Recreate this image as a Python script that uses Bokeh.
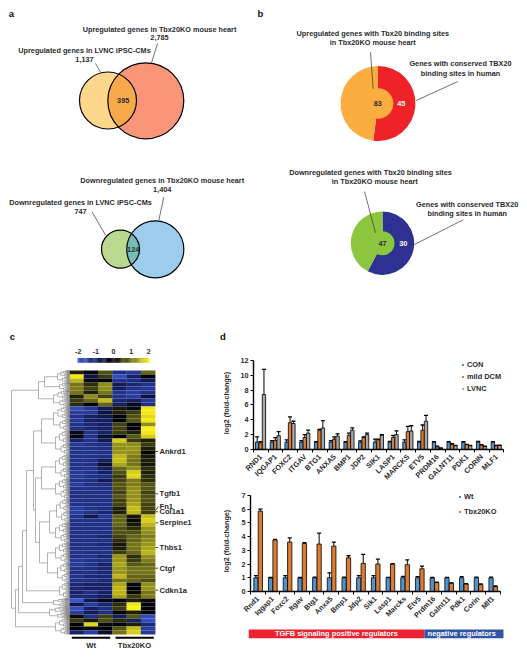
import numpy as np
from bokeh.plotting import figure
from bokeh.layouts import column, row
from bokeh.embed import file_html
from bokeh.resources import INLINE
from bokeh.core.properties import value
from bokeh.models import (ColumnDataSource, FixedTicker, Legend, LegendItem, LinearColorMapper, Range1d)

# ---------- data ----------
genes_human = ["RND1","IQGAP1","FOXC2","ITGAV","BTG1","ANXA5","BMP1","JDP2","SIK1","LASP1","MARCKS","ETV5","PRDM16","GALNT11","PDK1","CORIN","MLF1"]
con      = [1,1,1,1,1,1,1,1,1,1,1,1,1,1,1,1,1]
con_top  = [1.7,1.2,1.3,1.2,1.05,1.2,1.05,1.15,1.4,1.1,1.3,1.1,1.05,1.05,1.05,1.1,1.05]
dcm      = [0.9,1.2,3.6,1.6,2.6,1.4,1.9,1.6,1.3,1.6,2.4,2.6,0.35,0.7,0.65,0.6,0.5]
dcm_top  = [1.05,1.6,4.4,2.0,2.7,1.7,2.2,1.7,1.4,1.9,3.1,3.3,0.45,0.8,0.7,0.65,0.55]
lvnc     = [7.4,1.85,3.5,2.2,2.9,1.8,2.6,2.0,1.9,2.0,2.5,3.8,0.15,0.5,0.5,0.4,0.55]
lvnc_top = [10.8,2.4,3.8,2.6,3.9,2.1,2.9,2.2,2.0,2.5,3.2,4.6,0.2,0.55,0.55,0.45,0.6]

genes_mouse = ["Rnd1","Iqgap1","Foxc2","Itgav","Btg1","Anxa5","Bmp1","Jdp2","Sik1","Lasp1","Marcks","Etv5","Prdm16","Galnt11","Pdk1","Corin","Mlf1"]
wt      = [1,1,1,1,1,1,1,1,1,1,1,1,1,1,1,1,1]
wt_top  = [1.15,1.02,1.15,1.02,1.05,1.35,1.05,1.15,1.15,1.03,1.1,1.08,1.02,1.03,1.08,1.05,1.05]
ko      = [5.85,3.75,3.6,3.5,3.45,3.3,2.45,2.05,2.0,2.0,1.95,1.65,0.65,0.6,0.55,0.5,0.35]
ko_top  = [6.0,3.8,3.9,3.55,4.25,3.6,2.6,2.7,2.35,2.03,2.3,1.85,0.68,0.63,0.58,0.55,0.4]

band_labels = ["TGFB signaling positive regulators", "negative regulators"]
band_start = [0, 12]
band_stop  = [12, 17.4]

donut_up_share = [0.52, 0.48]     # red, orange
donut_down_share = [0.577, 0.423] # navy, green

marker_genes = ["Ankrd1","Tgfb1","Fn1","Col1a1","Serpine1","Thbs1","Ctgf","Cdkn1a"]
colorbar_ticks = [-2,-1,0,1,2]

heat_rows = [
[0.3,-0.2,0.7,-1.2,-1.4,0.9],[1.9,-0.6,0.5,-1.7,-1.0,-0.1],[1.5,-0.2,-0.1,-1.3,-1.2,-0.8],[1.0,0.4,1.2,-0.8,-1.1,-1.3],
[1.1,0.6,1.2,-0.9,-1.3,-1.4],[1.0,0.3,1.0,-1.3,-1.5,-1.3],[0.3,1.2,0.6,-1.3,-1.5,-0.6],[0.5,0.9,1.6,-1.1,-0.9,-1.4],
[0.4,0.0,0.9,-1.0,-0.3,-1.2],[-1.7,-1.4,-0.8,0.2,-0.2,1.9],[-1.5,-1.4,-0.6,0.3,0.5,1.9],[-1.3,-1.0,-0.7,-0.1,0.7,1.8],
[-1.4,-1.0,-0.9,0.0,0.8,1.9],[-1.3,-1.1,-1.0,0.6,0.0,1.2],[-1.2,-1.1,-1.0,0.6,-0.1,2.0],[-0.3,-1.3,-1.0,0.5,0.3,1.9],
[-0.2,-1.3,-0.5,-0.1,0.8,1.7],[-1.0,-1.3,-0.8,1.7,0.5,0.3],[-1.4,-1.3,-1.2,1.3,1.2,0.5],[-1.3,-1.3,-1.2,1.2,1.3,0.3],
[-1.3,-1.3,-1.2,1.3,1.2,0.0],[-1.3,-1.3,-1.2,1.5,1.1,0.2],[-1.3,-1.3,-0.9,1.6,1.0,0.3],[-1.3,-1.2,-0.5,1.4,1.0,0.2],
[-1.3,-1.3,-0.9,0.9,1.2,0.4],[-1.4,-1.3,-1.0,0.7,1.7,0.3],[-1.4,-1.3,-1.2,0.5,1.8,0.4],[-1.3,-1.2,-0.8,0.6,1.1,0.4],
[-1.5,-1.2,-1.2,0.8,1.1,0.8],[-1.3,-1.3,-1.2,0.7,1.2,0.8],[-1.2,-1.2,-1.2,0.6,1.3,0.6],[-1.2,-1.2,-1.2,0.8,1.2,0.7],
[-1.3,-1.2,-1.2,0.6,1.3,0.7],[-1.3,-1.2,-1.2,0.6,1.4,0.6],[-1.5,-1.3,-1.2,0.3,1.6,0.6],[-1.5,-1.3,-1.1,0.3,1.5,0.5],
[-1.3,-0.7,-1.4,0.9,0.2,1.6],[-1.3,-1.3,-1.2,0.9,0.1,1.7],[-1.3,-1.2,-1.2,0.9,0.2,1.5],[-1.2,-1.2,-1.2,0.7,0.4,1.3],
[-1.2,-1.2,-1.2,0.7,0.7,1.2],[-1.2,-1.2,-1.1,0.6,0.9,1.1],[-1.2,-1.2,-1.2,0.4,0.9,1.2],[-1.2,-1.2,-1.1,0.2,1.0,1.3],
[-1.2,-1.2,-1.2,0.3,1.0,1.4],[-1.3,-1.2,-1.2,0.5,0.9,1.5],[-1.2,-1.3,-1.1,1.3,0.4,1.2],[-1.4,-1.3,-1.2,1.3,0.5,1.1],
[-1.4,-1.3,-1.0,1.4,0.8,0.9],[-1.3,-1.2,-1.1,1.3,1.0,1.0],[-1.2,-1.2,-1.1,1.3,1.0,1.0],[-1.3,-1.1,-1.1,1.5,0.9,0.9],
[-1.2,-1.2,-1.1,1.0,0.9,0.7],[-1.1,-1.0,-1.0,1.4,-0.2,1.2],[-1.1,-1.0,-1.0,1.5,-0.1,1.3],[-1.0,-1.2,-1.0,1.5,0.1,1.0],
[-1.1,-1.1,-0.9,1.4,0.5,1.1],[-1.9,-0.8,-0.3,-0.1,0.3,0.1],[-0.7,-1.5,-1.1,0.4,1.9,-0.1],[-1.7,-1.0,-1.2,0.5,2.0,-0.1],
[-1.5,-0.8,-1.2,-0.1,0.3,0.0],[0.1,-1.2,0.6,-0.9,0.8,-1.7],[0.5,0.2,0.7,0.4,-1.0,-1.8],[-0.1,1.8,0.1,-0.1,0.3,-1.1],
[-0.1,-0.3,-0.1,0.8,1.6,-1.5],[-1.0,-1.5,-0.5,1.0,1.7,-1.4],
]

# dendrogram: (distance, child, child) or (distance, rows of a leaf cluster)
dend_mid = (36,(28,(16,6),(14,6)),(34,(28,(14,6),(14,5)),(30,(20,(13,6),(14,5)),(22,(14,5),(12,5)))))
dend_tree = (58,(31,(25,(12,3),(10,2)),(16,4)),(54,(51,(47,(43,dend_mid,(10,4)),(16,2)),(20,3)),(14,4)))

# ---------- helpers ----------
FONT = value("Liberation Sans")
INK = "#2b2b2b"

def canvas(w, h, x0, y0):
    p = figure(width=w, height=h, output_backend="svg", toolbar_location=None,
               x_range=Range1d(x0, x0 + w), y_range=Range1d(-(y0 + h), -y0), min_border=0)
    p.axis.visible = False
    p.grid.visible = False
    p.outline_line_color = None
    return p

def label(p, x, y, text, size=7.3, color=INK, align="center"):
    p.text(x=[x], y=[-y], text=[text], text_font=FONT, text_font_style="bold",
           text_font_size=f"{size}px", text_color=color, text_align=align, text_baseline="middle")

def leader(p, x0, y0, x1, y1, color="#333333", w=0.7):
    p.segment(x0=[x0], y0=[-y0], x1=[x1], y1=[-y1], line_color=color, line_width=w)

def venn(p, a, b, fa, fb, fo):
    (xa, ya, ra), (xb, yb, rb) = a, b
    p.circle(x=[xa], y=[-ya], radius=ra, fill_color=fa, line_color=None)
    p.circle(x=[xb], y=[-yb], radius=rb, fill_color=fb, line_color=None)
    d = xb - xa
    xi = (d*d + ra*ra - rb*rb) / (2*d)
    ha = np.arccos(xi / ra)
    hb = np.arccos((d - xi) / rb)
    ta = np.linspace(-ha, ha, 60)
    tb = np.linspace(np.pi - hb, np.pi + hb, 60)
    lx = np.concatenate([xa + ra*np.cos(ta), xb + rb*np.cos(tb)])
    ly = np.concatenate([-ya + ra*np.sin(ta), -yb + rb*np.sin(tb)])
    p.patch(lx, ly, fill_color=fo, line_color=None)
    for (x, y, r) in (a, b):
        p.circle(x=[x], y=[-y], radius=r, fill_color=None, line_color="black", line_width=1.2)

def donut(p, cx, cy, R, r, share, outer, inner):
    start = np.pi / 2
    mid = start - 2*np.pi*share[0]
    p.wedge(x=[cx], y=[-cy], radius=R, start_angle=start, end_angle=mid, direction="clock",
            fill_color=outer, line_color=None)
    p.wedge(x=[cx], y=[-cy], radius=R, start_angle=mid, end_angle=start, direction="clock",
            fill_color=inner, line_color=None)
    p.circle(x=[cx], y=[-cy], radius=r, fill_color=inner, line_color=None)

# ---------- panels a + b ----------
top = canvas(527, 318, 0, 0)
label(top, 11, 13, "a", 9.5, "#111111")
label(top, 260, 13, "b", 9.5, "#111111")

venn(top, (107.5,100,28.5), (145.3,100.3,38), "#fdd78c", "#f9967a", "#f8a94a")
venn(top, (120,248.7,19), (154.8,248.8,28.5), "#b9d98f", "#9dcdec", "#74bcb5")
label(top, 159, 28.5, "Upregulated genes in Tbx20KO mouse heart")
label(top, 159, 37, "2,785")
label(top, 84, 50, "Upregulated genes in LVNC iPSC-CMs")
label(top, 84, 59, "1,137")
leader(top, 100, 71.7, 95, 63)
leader(top, 151, 62.3, 157, 43)
label(top, 122.7, 100, "395")
label(top, 161.7, 180.3, "Downregulated genes in Tbx20KO mouse heart")
label(top, 161.7, 189.3, "1,404")
label(top, 80, 202.3, "Downregulated genes in LVNC iPSC-CMs")
label(top, 80, 211, "747")
leader(top, 105.3, 235, 91.7, 211.7)
leader(top, 158.3, 220, 163.3, 196.7)
label(top, 132.7, 248.5, "124")

donut(top, 377.5, 103, 37.5, 15.3, donut_up_share, "#ee2227", "#fbad3f")
donut(top, 382, 242.7, 31.7, 12, donut_down_share, "#2e3192", "#8cc63f")
label(top, 372.3, 33.3, "Upregulated genes with Tbx20 binding sites")
label(top, 372.3, 42, "in Tbx20KO mouse heart")
label(top, 460, 63.3, "Genes with conserved TBX20")
label(top, 460, 72.6, "binding sites in human")
label(top, 377.3, 103.3, "83")
label(top, 400.7, 103.3, "45", color="white")
leader(top, 370, 51.7, 372.7, 88.3)
leader(top, 415.7, 100, 457.3, 81)
label(top, 370, 172.3, "Downregulated genes with Tbx20 binding sites")
label(top, 374.3, 181.3, "in Tbx20KO mouse heart")
label(top, 466.7, 203.7, "Genes with conserved TBX20")
label(top, 466.7, 212.7, "binding sites in human")
label(top, 382, 242.7, "47")
label(top, 402.7, 242.7, "30", color="white")
leader(top, 364, 191, 375, 232.3)
leader(top, 413.3, 244.3, 462.7, 219.3)

# ---------- panel c ----------
c = canvas(219, 339, 0, 318)
label(c, 12, 336, "c", 9.5, "#111111")

stops = np.array([[60,90,215],[22,33,105],[0,0,0],[110,110,25],[252,240,20]], float)
palette = ["#%02x%02x%02x" % tuple(int(round(np.interp(t, [0,.25,.5,.75,1], stops[:,k]))) for k in range(3))
           for t in np.linspace(0, 1, 64)]
mapper = LinearColorMapper(palette=palette, low=-2, high=2)

HX0, HY0, CW, RH = 69.0, 370.0, 14.3, 4.0
heat = np.array(heat_rows)
rr, cc = np.indices(heat.shape)
hs = ColumnDataSource(dict(x=HX0 + (cc.ravel()+.5)*CW, y=-(HY0 + (rr.ravel()+.5)*RH), v=heat.ravel()))
c.rect(x="x", y="y", width=CW+0.2, height=RH+0.2, fill_color={"field": "v", "transform": mapper},
       line_color=None, source=hs)

# colour key
cb_vals = np.linspace(colorbar_ticks[0], colorbar_ticks[-1], 64)
cs = ColumnDataSource(dict(x=113 + cb_vals*17.65, y=-359.9*np.ones(64), v=cb_vals))
c.rect(x="x", y="y", width=1.3, height=4.8, fill_color={"field": "v", "transform": mapper}, line_color=None, source=cs)
for t in colorbar_ticks:
    label(c, 113 + t*17.65, 350.7, str(t), 7.1)

# dendrogram
segs = [[], [], [], []]
def put(a, b, cc_, d):
    segs[0].append(a); segs[1].append(-b); segs[2].append(cc_); segs[3].append(-d)
def fan(d, y0, y1):
    xn = HX0 - d
    if y1 - y0 < 1.1 or d < 2.5:
        ym = (y0 + y1) / 2
        put(xn, y0, HX0, y0)
        put(xn, ym, HX0, ym)
        return ym
    ym = y0 + (y1 - y0) * 0.52
    a = fan(d * 0.72, y0, ym)
    b = fan(d * 0.6, ym, y1)
    put(xn, a, xn, b)
    put(xn, a, HX0 - d * 0.72, a)
    put(xn, b, HX0 - d * 0.6, b)
    return (a + b) / 2
def walk(node, row_):
    if len(node) == 2:
        d, n = node
        y0 = HY0 + row_ * RH
        return fan(d, y0, y0 + n * RH), d, row_ + n
    d, left, right = node
    ya, da, row_ = walk(left, row_)
    yb, db, row_ = walk(right, row_)
    xn = HX0 - d
    put(xn, ya, xn, yb)
    put(xn, ya, HX0 - da, ya)
    put(xn, yb, HX0 - db, yb)
    return (ya + yb) / 2, d, row_
walk(dend_tree, 0)
c.segment(x0=segs[0], y0=segs[1], x1=segs[2], y1=segs[3], line_color="#808080", line_width=0.6)

marker_y = [451, 493.3, 505.7, 511.3, 522.3, 547, 567.7, 589.7]
for g, y in zip(marker_genes, marker_y):
    label(c, 159, y, g, 7.6, align="left")
    if g == "Fn1":
        leader(c, 155, 510, 158, 506, "#111111", 0.8)
    else:
        leader(c, 155, y, 157.5, y, "#111111", 0.8)

c.segment(x0=[71.3, 115], y0=[-637.3, -637.3], x1=[109.7, 153.3], y1=[-637.3, -637.3], line_color="black", line_width=2)
label(c, 90.7, 645, "Wt", 7.6)
label(c, 134, 645, "Tbx20KO", 7.6)

# ---------- panel d ----------
header = canvas(308, 27, 219, 318)
label(header, 222.5, 336, "d", 9.5, "#111111")

def bar_axes(width, height, ml, mt, mb, xend, yend, ymax, yticks, labels, standoff):
    n = len(labels)
    p = figure(width=width, height=height, output_backend="svg", toolbar_location=None,
               x_range=Range1d(0, xend), y_range=Range1d(0, yend),
               min_border_left=ml, min_border_right=0, min_border_top=mt, min_border_bottom=mb)
    p.grid.visible = False
    p.outline_line_color = None
    centers = [i + .5 for i in range(n)]
    p.xaxis.ticker = FixedTicker(ticks=centers, minor_ticks=list(range(n + 1)))
    p.xaxis.bounds = (0, n)
    p.yaxis.bounds = (0, ymax)
    p.xaxis.major_label_overrides = {k: v for k, v in zip(centers, labels)}
    p.xaxis.major_label_orientation = np.pi / 4
    p.xaxis.major_tick_out = 0
    p.xaxis.major_tick_in = 0
    p.xaxis.minor_tick_out = 3
    p.xaxis.minor_tick_in = 0
    p.xaxis.major_label_standoff = 3
    p.yaxis.ticker = FixedTicker(ticks=yticks)
    p.yaxis.major_tick_out = 3
    p.yaxis.major_tick_in = 0
    p.yaxis.major_label_standoff = 2
    p.yaxis.axis_label = "log2 (fold-change)"
    p.yaxis.axis_label_standoff = standoff
    p.yaxis.axis_label_text_font = "Liberation Sans"
    p.yaxis.axis_label_text_font_style = "bold"
    p.yaxis.axis_label_text_font_size = "7.2px"
    p.yaxis.axis_label_text_color = INK
    for ax in (p.xaxis, p.yaxis):
        ax.axis_line_color = "black"
        ax.axis_line_width = 1.4
        ax.major_tick_line_color = "black"
        ax.minor_tick_line_color = "black"
        ax.major_label_text_font = "Liberation Sans"
        ax.major_label_text_font_style = "bold"
        ax.major_label_text_font_size = "7.3px"
        ax.major_label_text_color = INK
    p.yaxis.minor_tick_line_color = None
    return p

def bars(p, x, vals, tops, off, w, color):
    xs = np.array(x, dtype=float) + off
    p.vbar(x=xs, bottom=0, top=vals, width=w, fill_color=color, line_color="black", line_width=0.8)
    p.segment(x0=xs, y0=vals, x1=xs, y1=tops, line_color="black", line_width=1.0)
    p.scatter(x=xs, y=tops, marker="dash", size=4, line_color="black", line_width=1.3)

def legend(p, names, colors, location, spacing):
    items = []
    for n, col in zip(names, colors):
        r = p.scatter(x=[-5], y=[-5], marker="square", size=8, fill_color=col, line_color=None)
        items.append(LegendItem(label=n, renderers=[r]))
    lg = Legend(items=items, location=location, background_fill_alpha=0, border_line_color=None,
                label_text_font="Liberation Sans", label_text_font_style="bold", label_text_font_size="7.4px",
                label_text_color=INK, glyph_width=5, glyph_height=5, spacing=spacing, padding=0,
                margin=0, label_standoff=2, label_height=5)
    p.add_layout(lg)

idx = [i + .5 for i in range(17)]
C_BLUE, C_ORANGE, C_GREY = "#4f94cd", "#e07b31", "#a6a6a6"

d1 = bar_axes(308, 143, 32, 11, 35, 18.6, 12.52, 12, [0,2,4,6,8,10,12], genes_human, 6)
bars(d1, idx, con, con_top, -0.25, 0.23, C_BLUE)
bars(d1, idx, dcm, dcm_top, -0.02, 0.23, C_ORANGE)
bars(d1, idx, lvnc, lvnc_top, 0.21, 0.23, C_GREY)
legend(d1, ["CON", "mild DCM", "LVNC"], [C_BLUE, C_ORANGE, C_GREY], (207, 56), 3)

d2 = bar_axes(308, 137, 29, 2, 31, 18.85, 7.35, 7, [0,1,2,3,4,5,6,7], genes_mouse, 7)
bars(d2, idx, wt, wt_top, -0.13, 0.29, C_BLUE)
bars(d2, idx, ko, ko_top, 0.17, 0.29, C_ORANGE)
legend(d2, ["Wt", "Tbx20KO"], [C_BLUE, C_ORANGE], (207, 75), 6)

band = figure(width=308, height=32, output_backend="svg", toolbar_location=None,
              x_range=Range1d(0, 19.04), y_range=Range1d(0, 32),
              min_border_left=29, min_border_right=0, min_border_top=0, min_border_bottom=0)
band.axis.visible = False
band.grid.visible = False
band.outline_line_color = None
band.quad(left=band_start, right=band_stop, bottom=[19.3, 19.3], top=[28, 28],
          fill_color=["#ed2230", "#2f55a5"], line_color=None)
band.text(x=[6.0, 14.55], y=[23.6, 23.6], text=band_labels,
          text_font=FONT, text_font_style="bold", text_font_size="7.4px", text_color="white",
          text_align="center", text_baseline="middle")

layout = column(row(top), row(row(c), column(row(header), row(d1), row(d2), row(band))))
open("out.html", "w").write(file_html(layout, INLINE))
